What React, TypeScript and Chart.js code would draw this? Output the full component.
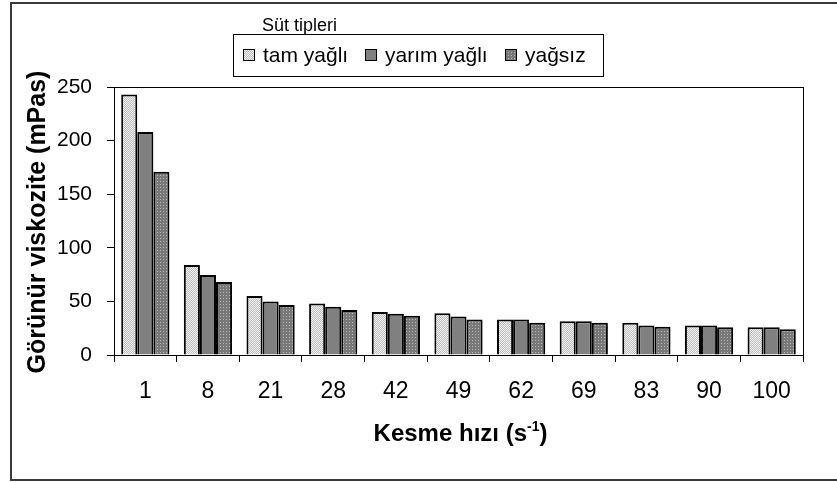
import { useEffect, useRef } from 'react';
import { Chart, registerables } from 'chart.js';

Chart.register(...registerables);

const categories = ['1', '8', '21', '28', '42', '49', '62', '69', '83', '90', '100'];
const tamYagli = [243, 84, 55, 48, 40, 39, 33, 31.5, 30, 27.6, 25.8];
const yarimYagli = [208, 74.6, 50, 45, 38.5, 36, 33, 31.5, 27.6, 27.6, 25.8];
const yagsiz = [171, 68, 46.6, 42, 36.5, 33, 30, 30, 26.3, 26, 24];
const seriesLabels = ['tam yağlı', 'yarım yağlı', 'yağsız'];
const legendTitle = 'Süt tipleri';
const yTitle = 'Görünür viskozite (mPas)';
const xTitleMain = 'Kesme hızı (s';
const xTitleSup = '-1';
const xTitleEnd = ')';
const yMin = 0;
const yMax = 250;
const yStep = 50;

const FONT = '"Liberation Sans", Arial, sans-serif';

function makePattern(size: number, base: string, dots: [number, number, string][]) {
  const c = document.createElement('canvas');
  c.width = size;
  c.height = size;
  const g = c.getContext('2d')!;
  g.fillStyle = base;
  g.fillRect(0, 0, size, size);
  for (const [x, y, col] of dots) {
    g.fillStyle = col;
    g.fillRect(x, y, 1, 1);
  }
  return g.createPattern(c, 'repeat')!;
}

const legendSwatchX = [243, 365, 505];

const decorPlugin = {
  id: 'decor',
  afterDraw(chart: any) {
    const ctx = chart.ctx as CanvasRenderingContext2D;
    const { left, right, top, bottom } = chart.chartArea;
    ctx.save();
    // plot box
    ctx.strokeStyle = '#000';
    ctx.lineWidth = 1;
    ctx.strokeRect(left + 0.5, top + 0.5, right - left, bottom - top);
    // outer frame
    ctx.strokeStyle = '#3a3a3a';
    ctx.lineWidth = 2;
    ctx.strokeRect(11, 3, 840, 477);

    // y title
    ctx.fillStyle = '#000';
    ctx.font = `bold 25px ${FONT}`;
    ctx.textAlign = 'center';
    ctx.textBaseline = 'alphabetic';
    ctx.save();
    ctx.translate(45, (top + bottom) / 2 + 1);
    ctx.rotate(-Math.PI / 2);
    ctx.fillText(yTitle, 0, 0);
    ctx.restore();

    // x title with superscript
    const mainFont = `bold 24px ${FONT}`;
    const supFont = `bold 14px ${FONT}`;
    ctx.font = mainFont;
    const w1 = ctx.measureText(xTitleMain).width;
    const w3 = ctx.measureText(xTitleEnd).width;
    ctx.font = supFont;
    const w2 = ctx.measureText(xTitleSup).width;
    const total = w1 + w2 + w3;
    let x = (left + right) / 2 + 2 - total / 2;
    const base = 441;
    ctx.textAlign = 'left';
    ctx.font = mainFont;
    ctx.fillText(xTitleMain, x, base);
    x += w1;
    ctx.font = supFont;
    ctx.fillText(xTitleSup, x, base - 10);
    x += w2;
    ctx.font = mainFont;
    ctx.fillText(xTitleEnd, x, base);

    // legend
    ctx.font = `18px ${FONT}`;
    ctx.fillText(legendTitle, 262, 31);
    ctx.strokeStyle = '#000';
    ctx.lineWidth = 1;
    ctx.strokeRect(233.5, 34.5, 370, 42);
    ctx.font = `21px ${FONT}`;
    chart.data.datasets.forEach((ds: any, i: number) => {
      const lx = legendSwatchX[i];
      ctx.fillStyle = ds.backgroundColor;
      ctx.fillRect(lx, 49, 12, 12);
      ctx.strokeStyle = '#000';
      ctx.lineWidth = 1;
      ctx.strokeRect(lx + 0.5, 49.5, 11, 11);
      ctx.fillStyle = '#000';
      ctx.fillText(ds.label, lx + 20, 62);
    });
    ctx.restore();
  },
};

export default function App() {
  const ref = useRef<HTMLCanvasElement>(null);
  useEffect(() => {
    document.body.style.margin = '0';
    const tamPat = makePattern(2, '#f2f2f2', [[1, 0, '#bdbdbd'], [0, 1, '#bdbdbd']]);
    const yarimFill = '#808080';
    const yagsizPat = makePattern(3, '#787878', [[1, 1, '#b8b8b8']]);
    const fills = [tamPat, yarimFill, yagsizPat];
    const values = [tamYagli, yarimYagli, yagsiz];
    const chart = new Chart(ref.current!, {
      type: 'bar',
      data: {
        labels: categories,
        datasets: values.map((v, i) => ({
          label: seriesLabels[i],
          data: v,
          backgroundColor: fills[i] as any,
          borderColor: '#000',
          borderWidth: 2,
          categoryPercentage: 0.77,
          barPercentage: 1,
        })),
      },
      options: {
        responsive: false,
        animation: false,
        devicePixelRatio: 1,
        layout: { padding: { left: 0, top: 87, right: 34, bottom: 0 } },
        plugins: { legend: { display: false }, tooltip: { enabled: false }, title: { display: false } },
        scales: {
          x: {
            grid: { offset: true, drawOnChartArea: false, drawTicks: true, tickLength: 7, color: '#000' },
            border: { color: '#000', width: 1 },
            ticks: {
              color: '#000',
              font: { family: FONT, size: 23 },
              padding: 16,
              maxRotation: 0,
              autoSkip: false,
            },
            afterFit: (s: any) => { s.height = 127; },
          },
          y: {
            min: yMin,
            max: yMax,
            ticks: { stepSize: yStep, color: '#000', font: { family: FONT, size: 21 }, padding: 15 },
            grid: { drawOnChartArea: false, drawTicks: true, tickLength: 7, color: '#000' },
            border: { color: '#000', width: 1 },
            afterFit: (s: any) => { s.width = 114; },
          },
        },
      },
      plugins: [decorPlugin],
    });
    return () => chart.destroy();
  }, []);
  return (
    <div style={{ width: 837, height: 482 }}>
      <canvas ref={ref} width={837} height={482} style={{ display: 'block' }} />
    </div>
  );
}
